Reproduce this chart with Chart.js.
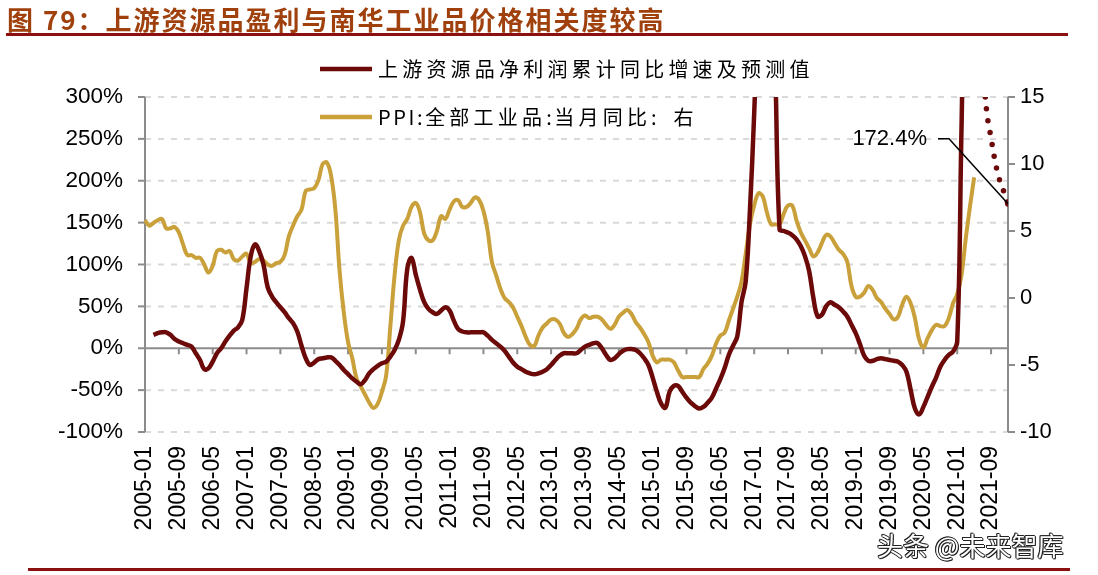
<!DOCTYPE html>
<html>
<head>
<meta charset="utf-8">
<script src="https://cdn.jsdelivr.net/npm/chart.js@4.4.0/dist/chart.umd.min.js"></script>
<style>
  body { margin: 0; background: #fff; }
  #wrap { position: relative; width: 1098px; height: 575px; overflow: hidden; }
  #chart { position: absolute; left: 0; top: 0; }
  #title {
    position: absolute; left: 7px; top: 0; line-height: 36px; white-space: nowrap;
    font: bold 26px 'Noto Sans CJK SC'; letter-spacing: 2px; color: #a0410d;
  }
  .rule { position: absolute; background: #8c1010; }
  #mark {
    position: absolute; left: 877px; top: 526px; line-height: 30px; white-space: nowrap;
    font: 26px 'Noto Sans CJK SC'; color: #fff;
    text-shadow: 1px 0 #222, -1px 0 #222, 0 1px #222, 0 -1px #222, 1px 1px #222, -1px -1px #222;
  }
</style>
</head>
<body>
<div id="wrap">
  <canvas id="chart" width="1098" height="575"></canvas>
  <div id="title">图 79：上游资源品盈利与南华工业品价格相关度较高</div>
  <div class="rule" style="left:6px;top:33px;width:1062px;height:3px"></div>
  <div class="rule" style="left:28px;top:568px;width:1042px;height:3px"></div>
  <div id="mark">头条 @未来智库</div>
</div>
<script>
// monthly categories, 2005-01 .. 2022-01
const firstYear = 2005;
const monthCount = 205;
const months = [];
for (let k = 0; k < monthCount; k++) {
  const yy = firstYear + Math.floor(k / 12), mm = k % 12 + 1;
  months.push(yy + '-' + String(mm).padStart(2, '0'));
}
const labelEvery = 8;

// 上游资源品净利润累计同比 (%), 2005-01 .. 2021-06
const profitActual = [
  null, null, 16, 18, 19, 19, 16, 11, 8, 6, 4, 2,            // 2005
  -6, -14, -25, -24, -16, -6, 0, 8, 15, 21, 25, 34,          // 2006
  72, 110, 124, 116, 100, 73, 62, 55, 49, 43, 36, 30,        // 2007
  20, 3, -12, -20, -17, -13, -12, -11, -11, -15, -20, -26,   // 2008
  -31, -36, -40, -43, -38, -30, -25, -21, -18, -16, -10, -2, // 2009
  10, 32, 95, 108, 88, 70, 55, 47, 43, 41, 45, 49,           // 2010
  45, 33, 23, 20, 19, 19, 19, 19, 19, 15, 10, 6,             // 2011
  2, -3, -10, -17, -22, -25, -28, -30, -31, -30, -28, -25,   // 2012
  -20, -14, -9, -6, -6, -6, -6, -2, 2, 4, 6, 6,              // 2013
  0, -8, -14, -12, -7, -3, -1, -1, -2, -6, -12, -20,         // 2014
  -35, -52, -66, -71, -52, -45, -45, -52, -59, -65, -69, -72,// 2015
  -70, -65, -59, -48, -37, -24, -8, 3, 14, 55, 80, 165,      // 2016
  280, 420, 500, 520, 480, 330, 142, 140, 138, 135, 130, 122,// 2017
  110, 92, 60, 38, 40, 50, 55, 52, 49, 44, 38, 28,           // 2018
  18, 5, -9, -15, -15, -13, -12, -13, -14, -15, -16, -20,    // 2019
  -28, -50, -72, -79, -70, -58, -46, -35, -22, -14, -8, -4,  // 2020
  8, 260, 500, 480, 440, 400                                 // 2021
];

// 预测值 (%), 2021-06 .. end of axis
const forecastStart = 197;
const profitForecast = [400, 344, 281, 251, 222, 201, 187, 172.4];

// PPI:全部工业品:当月同比 (%), 2005-01 .. 2021-05
const ppi = [
  5.8, 5.4, 5.6, 5.8, 5.9, 5.2, 5.2, 5.3, 4.9, 4.0, 3.2, 3.2,
  3.0, 3.0, 2.5, 1.9, 2.4, 3.5, 3.6, 3.4, 3.5, 2.9, 2.8, 3.1,
  3.3, 2.6, 2.7, 2.9, 2.8, 2.5, 2.4, 2.6, 2.7, 3.2, 4.6, 5.4,
  6.1, 6.6, 8.0, 8.1, 8.2, 8.8, 10.0, 10.1, 9.1, 6.6, 2.0, -1.1,
  -3.3, -4.5, -6.0, -6.6, -7.2, -7.8, -8.2, -7.9, -7.0, -5.8, -2.1, 1.7,
  4.3, 5.4, 5.9, 6.8, 7.1, 6.4, 4.8, 4.3, 4.3, 5.0, 6.1, 5.9,
  6.6, 7.2, 7.3, 6.8, 6.8, 7.1, 7.5, 7.3, 6.5, 5.0, 2.7, 1.7,
  0.7, 0.0, -0.3, -0.7, -1.4, -2.1, -2.9, -3.5, -3.6, -2.8, -2.2, -1.9,
  -1.6, -1.6, -1.9, -2.6, -2.9, -2.7, -2.3, -1.6, -1.3, -1.5, -1.4, -1.4,
  -1.6, -2.0, -2.3, -2.0, -1.4, -1.1, -0.9, -1.2, -1.8, -2.2, -2.7, -3.3,
  -4.3, -4.8, -4.6, -4.6, -4.6, -4.8, -5.4, -5.9, -5.9, -5.9, -5.9, -5.9,
  -5.3, -4.9, -4.3, -3.4, -2.8, -2.6, -1.7, -0.8, 0.1, 1.2, 3.3, 5.5,
  6.9, 7.8, 7.6, 6.4, 5.5, 5.5, 5.5, 6.3, 6.9, 6.9, 5.8, 4.9,
  4.3, 3.7, 3.1, 3.4, 4.1, 4.7, 4.6, 4.1, 3.6, 3.3, 2.7, 0.9,
  0.1, 0.1, 0.4, 0.9, 0.6, 0.0, -0.3, -0.8, -1.2, -1.6, -1.4, -0.5,
  0.1, -0.4, -1.5, -3.1, -3.7, -3.0, -2.4, -2.0, -2.1, -2.1, -1.5, -0.4,
  0.3, 1.7, 4.4, 6.8, 9.0
];

const leftTicks = { min: -100, max: 300, step: 50 };
const rightTicks = { min: -10, max: 15, step: 5 };

const MAROON = '#6c0a0a';
const GOLD = '#c9a03a';
const AXIS_GRAY = '#8c8c8c';

const legendItems = [
  { text: '上游资源品净利润累计同比增速及预测值', color: MAROON },
  { text: 'PPI:全部工业品:当月同比:  右', color: GOLD }
];

const forecastData = months.map((m, i) => {
  const k = i - forecastStart;
  return k >= 0 && k < profitForecast.length ? profitForecast[k] : null;
});

Chart.defaults.font.family = "'Liberation Sans', Arial, sans-serif";
Chart.defaults.color = '#000';

// gridlines, axis lines and tick marks like the Excel original
const framePlugin = {
  id: 'frame',
  beforeDatasetsDraw(chart) {
    const { ctx, chartArea: a, scales } = chart;
    const yL = scales.y, yR = scales.y1, x = scales.x;
    ctx.save();
    ctx.lineWidth = 2;
    ctx.strokeStyle = '#d9d9d9';
    ctx.setLineDash([6, 7]);
    yL.ticks.forEach(t => {
      if (t.value === 0) return;
      const py = yL.getPixelForValue(t.value);
      ctx.beginPath(); ctx.moveTo(a.left, py); ctx.lineTo(a.right, py); ctx.stroke();
    });
    ctx.setLineDash([]);
    ctx.strokeStyle = AXIS_GRAY;
    // left axis
    ctx.beginPath(); ctx.moveTo(a.left, a.top); ctx.lineTo(a.left, a.bottom); ctx.stroke();
    yL.ticks.forEach(t => {
      const py = yL.getPixelForValue(t.value);
      ctx.beginPath(); ctx.moveTo(a.left - 7, py); ctx.lineTo(a.left, py); ctx.stroke();
    });
    // right axis
    ctx.beginPath(); ctx.moveTo(a.right, a.top); ctx.lineTo(a.right, a.bottom); ctx.stroke();
    yR.ticks.forEach(t => {
      const py = yR.getPixelForValue(t.value);
      ctx.beginPath(); ctx.moveTo(a.right, py); ctx.lineTo(a.right + 7, py); ctx.stroke();
    });
    // category axis crossing at 0%
    const y0 = yL.getPixelForValue(0);
    ctx.beginPath(); ctx.moveTo(a.left, y0); ctx.lineTo(a.right, y0); ctx.stroke();
    for (let i = labelEvery; i < months.length; i += labelEvery) {
      const px = x.getPixelForValue(i);
      ctx.beginPath(); ctx.moveTo(px, y0); ctx.lineTo(px, y0 + 6); ctx.stroke();
    }
    ctx.restore();
  }
};

const calloutPlugin = {
  id: 'callout',
  afterDatasetsDraw(chart) {
    const { ctx, scales } = chart;
    const last = profitForecast.length - 1;
    const px = scales.x.getPixelForValue(forecastStart + last);
    const py = scales.y.getPixelForValue(profitForecast[last]);
    ctx.save();
    ctx.strokeStyle = '#000';
    ctx.lineWidth = 1.5;
    ctx.beginPath();
    ctx.moveTo(px - 70, py - 65);
    ctx.lineTo(px - 59, py - 65);
    ctx.lineTo(px, py);
    ctx.stroke();
    ctx.font = "22px 'Liberation Sans'";
    ctx.fillStyle = '#000';
    ctx.textAlign = 'right';
    ctx.textBaseline = 'middle';
    ctx.fillText(profitForecast[last].toFixed(1) + '%', px - 81, py - 65);
    ctx.restore();
  }
};

const legendPlugin = {
  id: 'insideLegend',
  afterDraw(chart) {
    const { ctx } = chart;
    const rows = [69, 117];
    ctx.save();
    ctx.font = "20px 'Noto Sans CJK SC'";
    ctx.textBaseline = 'middle';
    ctx.fillStyle = '#000';
    legendItems.forEach((item, n) => {
      const y = rows[n];
      ctx.strokeStyle = item.color;
      ctx.lineWidth = 4.5;
      ctx.beginPath(); ctx.moveTo(320, y); ctx.lineTo(372, y); ctx.stroke();
      let x = 378;
      for (const ch of item.text) {
        ctx.fillText(ch, x, y);
        // wide spacing between Chinese glyphs, a little for Latin ones
        const wide = ch.charCodeAt(0) > 0x2e80;
        x += ctx.measureText(ch).width + (wide ? 4.2 : 2.6);
      }
    });
    ctx.restore();
  }
};

new Chart(document.getElementById('chart'), {
  type: 'line',
  data: {
    labels: months,
    datasets: [
      {
        label: legendItems[0].text,
        data: profitActual,
        yAxisID: 'y',
        borderColor: MAROON,
        borderWidth: 4.5,
        tension: 0.4,
        pointRadius: 0,
        clip: 0
      },
      {
        label: '预测值',
        data: forecastData,
        yAxisID: 'y',
        borderColor: MAROON,
        borderWidth: 5.5,
        borderDash: [0, 12],
        borderCapStyle: 'round',
        tension: 0.4,
        pointRadius: ctx => ctx.dataIndex === forecastStart + profitForecast.length - 1 ? 3 : 0,
        pointBackgroundColor: MAROON,
        pointBorderWidth: 0,
        clip: 0
      },
      {
        label: legendItems[1].text,
        data: ppi,
        yAxisID: 'y1',
        borderColor: GOLD,
        borderWidth: 4,
        tension: 0.4,
        pointRadius: 0
      }
    ]
  },
  options: {
    responsive: false,
    animation: false,
    devicePixelRatio: 1,
    layout: { padding: { top: 97, left: 0, right: 0, bottom: 0 } },
    elements: { line: { capBezierPoints: false } },
    plugins: { legend: { display: false }, tooltip: { enabled: false } },
    scales: {
      x: {
        type: 'category',
        offset: false,
        grid: { display: false, drawTicks: false },
        border: { display: false },
        ticks: {
          autoSkip: false,
          minRotation: 90,
          maxRotation: 90,
          padding: 14,
          font: { size: 23 },
          callback: (v, i) => (i % labelEvery === 0 ? months[i] : null)
        },
        afterFit: s => { s.height = 143; }
      },
      y: {
        position: 'left',
        min: leftTicks.min,
        max: leftTicks.max,
        grid: { display: false, drawTicks: false },
        border: { display: false },
        ticks: { stepSize: leftTicks.step, padding: 22, font: { size: 22.5 }, callback: v => v + '%' },
        afterFit: s => { s.width = 145; }
      },
      y1: {
        position: 'right',
        min: rightTicks.min,
        max: rightTicks.max,
        grid: { display: false, drawTicks: false },
        border: { display: false },
        ticks: { stepSize: rightTicks.step, padding: 12, font: { size: 22 } },
        afterFit: s => { s.width = 90; }
      }
    }
  },
  plugins: [framePlugin, calloutPlugin, legendPlugin]
});
</script>
</body>
</html>
